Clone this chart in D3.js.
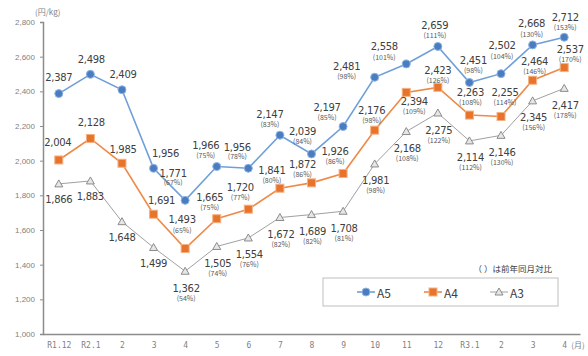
<!DOCTYPE html>
<html><head><meta charset="utf-8">
<script src="https://cdn.jsdelivr.net/npm/d3@7"></script>
<style>
html,body{margin:0;padding:0;background:#fff;}
svg{display:block;font-family:"Noto Sans CJK JP","Noto Sans",sans-serif;}
</style></head>
<body><svg id="c" width="588" height="356"></svg>
<script>
// ---- data ----
const categories = ["R1.12","R2.1","2","3","4","5","6","7","8","9","10","11","12","R3.1","2","3","4"];
const seriesNames = ["A5","A4","A3"];
const a5Values = [2387,2498,2409,1956,1771,1966,1956,2147,2039,2197,2481,2558,2659,2451,2502,2668,2712];
const a4Values = [2004,2128,1985,1691,1493,1665,1720,1841,1872,1926,2176,2394,2423,2263,2255,2464,2537];
const a3Values = [1866,1883,1648,1499,1362,1505,1554,1672,1689,1708,1981,2168,2275,2114,2146,2345,2417];
const a5Pct = [null,null,null,null,67,75,78,83,84,85,98,101,111,98,104,130,153];
const a4Pct = [null,null,null,null,65,75,77,80,86,86,98,109,126,108,114,146,170];
const a3Pct = [null,null,null,null,54,74,76,82,82,81,98,108,122,112,130,156,178];
const yTicks = [1000,1200,1400,1600,1800,2000,2200,2400,2600,2800];

// ---- layout (label nudges: [dx, dy of value text, dy of pct text]) ----
const labelLayout = {
  A5: [[0,-16],[1,-15],[1,-15],[12,-15],[-12,-27,-18],[-11,-21,-12],[-11,-21,-12],[-10,-21,-11.5],[-9,-22,-12.5],
       [-16,-19,-9.5],[-28,-11,-1],[-22,-17,-7],[-3,-21,-11],[4,-22,-12],[1,-28,-18],[-1,-21,-11],[1,-20,-10.5]],
  A4: [[-1,-17],[1,-16],[1,-14],[8,-14],[-3,-29,-19],[-7,-21,-11.5],[-8,-22,-12.5],[-8,-18,-8.5],[-9,-18,-8.5],
       [-8,-22,-12.5],[-3,-20,-10.5],[8,9,18.5],[0,-17,-7.5],[1,-23,-13],[4,-24,-14],[2,-19,-9.5],[6,-18,-8.5]]
};

const series = [
  {name:"A5", values:a5Values, pct:a5Pct, color:"#5b8fd0", line:"#6f9fd8", marker:"circle"},
  {name:"A4", values:a4Values, pct:a4Pct, color:"#ed7d31", line:"#ee8a48", marker:"square"},
  {name:"A3", values:a3Values, pct:a3Pct, color:"#a5a5a5", line:"#a0a0a0", marker:"triangle"}
];

const svg = d3.select("#c");
const x = d3.scalePoint().domain(d3.range(categories.length)).range([43,580]).padding(0.5);
const y = d3.scaleLinear().domain([1000,2800]).range([334,22]);

// axes
const yAxis = d3.axisLeft(y).tickValues(yTicks).tickFormat(d3.format(",")).tickSize(3).tickPadding(5);
const gy = svg.append("g").attr("transform","translate(43,0)").call(yAxis);
gy.select(".domain").attr("stroke","#8c8c8c").attr("stroke-width",1.5);
gy.selectAll(".tick line").attr("stroke","#8c8c8c");
gy.selectAll(".tick text").attr("fill","#7f7f7f").attr("font-size","8px").attr("font-family","'Liberation Sans',sans-serif");

const xAxis = d3.axisBottom(x).tickFormat(i=>categories[i]).tickSize(0).tickPadding(8);
const gx = svg.append("g").attr("transform","translate(0,334)").call(xAxis);
gx.select(".domain").attr("stroke","#8c8c8c").attr("stroke-width",1.5);
gx.selectAll(".tick text").attr("fill","#7f7f7f").attr("font-size","8px").attr("font-family","'DejaVu Sans Mono',monospace");

svg.append("text").attr("x",x(16)+7).attr("y",346).attr("dominant-baseline","middle")
  .attr("font-size","8px").attr("fill","#7f7f7f").text("(月)");
svg.append("text").attr("x",35).attr("y",13).attr("dominant-baseline","middle")
  .attr("font-size","8px").attr("fill","#7f7f7f").text("(円/kg)");

// lines
const line = d3.line().x((d,i)=>x(i)).y(d=>y(d));
function drawMarker(g, type, cx, cy, color){
  if(type==="circle"){
    g.append("circle").attr("cx",cx).attr("cy",cy).attr("r",4).attr("fill","#4a7cc0").attr("stroke","#8fb4e3").attr("stroke-width",1);
  } else if(type==="square"){
    g.append("rect").attr("x",cx-4).attr("y",cy-4).attr("width",8).attr("height",8).attr("fill","#e8732a").attr("stroke","#f4b183").attr("stroke-width",1);
  } else {
    g.append("path").attr("d",`M${cx},${cy-4}L${cx+4},${cy+3}L${cx-4},${cy+3}Z`).attr("fill","#e6e6e6").attr("stroke","#8c8c8c").attr("stroke-width",1);
  }
}
// draw A3 first, then A4, then A5
[...series].reverse().forEach(s=>{
  svg.append("path").datum(s.values).attr("d",line).attr("fill","none")
    .attr("stroke",s.line).attr("stroke-width", s.name==="A3"?1:1.6);
});
[...series].reverse().forEach(s=>{
  const g = svg.append("g");
  s.values.forEach((v,i)=>drawMarker(g,s.marker,x(i),y(v),s.color));
});

// labels
const fmt = d3.format(",");
series.forEach(s=>{
  const g = svg.append("g");
  s.values.forEach((v,i)=>{
    let nud;
    if(labelLayout[s.name]) nud = labelLayout[s.name][i];
    else nud = s.pct[i]==null ? [0,16] : [1,17,26.5];
    const cx = x(i)+nud[0], cy = y(v);
    g.append("text").attr("x",cx).attr("y",cy+nud[1]).attr("text-anchor","middle").attr("dominant-baseline","central")
      .attr("font-size","10px").attr("fill","#404040").attr("font-family","'DejaVu Sans',sans-serif").attr("letter-spacing","-0.3px").text(fmt(v));
    if(s.pct[i]!=null){
      g.append("text").attr("x",cx).attr("y",cy+nud[2]).attr("text-anchor","middle").attr("dominant-baseline","central")
        .attr("font-size","7px").attr("fill","#595959").text("("+s.pct[i]+"%)");
    }
  });
});

// note + legend
svg.append("text").attr("x",552).attr("y",268).attr("text-anchor","end").attr("dominant-baseline","central")
  .attr("font-size","8.5px").attr("fill","#404040").text("（ ）は前年同月対比");
svg.append("rect").attr("x",323).attr("y",278).attr("width",235).attr("height",28)
  .attr("fill","#fff").attr("stroke","#bfbfbf").attr("stroke-width",1);
const legX = [357,424,490];
series.forEach((s,k)=>{
  const lx = legX[k], ly = 292;
  svg.append("line").attr("x1",lx).attr("x2",lx+18).attr("y1",ly).attr("y2",ly).attr("stroke",s.line).attr("stroke-width",s.name==="A3"?1:1.6);
  const g = svg.append("g");
  drawMarker(g,s.marker,lx+9,ly,s.color);
  svg.append("text").attr("x",lx+20).attr("y",ly).attr("dominant-baseline","central")
    .attr("font-size","12px").attr("fill","#404040").text(s.name);
});
</script></body></html>
